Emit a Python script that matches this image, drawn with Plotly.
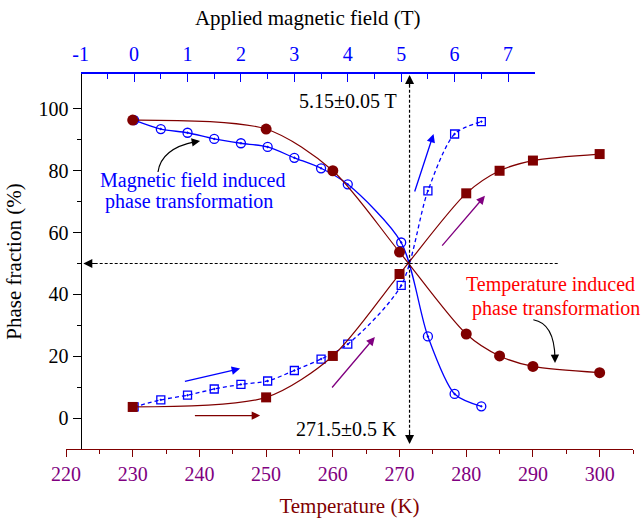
import plotly.graph_objects as go

# Temperature-driven transformation: phase fraction (%) vs temperature (K)
temp_K = [230, 250, 260, 270, 280, 285, 290, 300]
temp_decreasing = [96.4, 93.5, 80.0, 53.7, 27.2, 20.1, 16.7, 14.7]
temp_increasing = [3.6, 6.7, 20.1, 46.6, 72.7, 80.0, 83.3, 85.4]

# Field-driven transformation: phase fraction (%) vs applied field (T)
field_T = [0, 0.5, 1, 1.5, 2, 2.5, 3, 3.5, 4, 5, 5.5, 6, 6.5]
field_decreasing = [96.4, 93.5, 92.3, 90.3, 88.9, 87.7, 84.2, 80.8, 75.6, 56.8, 26.4, 7.8, 3.8]
field_increasing = [3.6, 5.9, 7.4, 9.4, 10.9, 12.0, 15.4, 19.1, 23.9, 42.9, 73.5, 91.9, 95.9]

# Tick labels
temp_ticks = [220, 230, 240, 250, 260, 270, 280, 290, 300]
field_ticks = [-1, 0, 1, 2, 3, 4, 5, 6, 7]
field_tick_text = ["-1", "0", "1", "2", "3", "4", "5", "6", "7"]
fraction_ticks = [0, 20, 40, 60, 80, 100]

# Transition point
T_CROSS = 271.5
B_CROSS = 5.15
P_CROSS = 50

MAROON = "#800000"
PURPLE = "#800080"
BLUE = "#0000FF"
RED = "#FF0000"
FONT = "Liberation Serif"

fig = go.Figure()

# field-induced curves (top axis, "x")
fig.add_trace(go.Scatter(
    x=field_T, y=field_decreasing, xaxis="x", yaxis="y", mode="lines+markers",
    line=dict(color=BLUE, width=1.3, shape="spline", smoothing=0.8),
    marker=dict(symbol="circle-open-dot", size=9, color=BLUE, line=dict(width=1.3)),
    showlegend=False, cliponaxis=False))
fig.add_trace(go.Scatter(
    x=field_T, y=field_increasing, xaxis="x", yaxis="y", mode="lines+markers",
    line=dict(color=BLUE, width=1.3, shape="spline", smoothing=0.8, dash="4px,3px"),
    marker=dict(symbol="square-open-dot", size=8, color=BLUE, line=dict(width=1.3)),
    showlegend=False, cliponaxis=False))

# temperature-induced curves (bottom axis, "x2"), drawn above the field curves
fig.add_trace(go.Scatter(
    x=temp_K, y=temp_decreasing, xaxis="x2", yaxis="y", mode="lines+markers",
    line=dict(color=MAROON, width=1.2, shape="spline", smoothing=0.8),
    marker=dict(symbol="circle", size=11, color=MAROON),
    showlegend=False, cliponaxis=False))
fig.add_trace(go.Scatter(
    x=temp_K, y=temp_increasing, xaxis="x2", yaxis="y", mode="lines+markers",
    line=dict(color=MAROON, width=1.2, shape="spline", smoothing=0.8),
    marker=dict(symbol="square", size=10, color=MAROON),
    showlegend=False, cliponaxis=False))

shapes = [
    # dashed guide lines through the transition point
    dict(type="line", xref="x2", yref="y", x0=T_CROSS, x1=T_CROSS, y0=-8.0, y1=110.5,
         line=dict(color="black", width=1.2, dash="3px,2px")),
    dict(type="line", xref="x2", yref="y", x0=222.8, x1=293.8, y0=P_CROSS, y1=P_CROSS,
         line=dict(color="black", width=1.2, dash="3px,2px")),
    # curved pointers
    dict(type="path", xref="x2", yref="y",
         path="M 233.79,79.6 Q 234.3,87.2 239.4,89.4",
         line=dict(color="black", width=1.2)),
    dict(type="path", xref="x2", yref="y",
         path="M 290.06,31.8 Q 293.2,30.6 293.3,19.5",
         line=dict(color="black", width=1.2)),
]


def arrow(x, y, ax, ay, color, width=1.3, size=1.3, head=2):
    return dict(x=x, y=y, ax=ax, ay=ay, xref="x2", yref="y", axref="x2", ayref="y",
                text="", showarrow=True, arrowhead=head, arrowsize=size,
                arrowwidth=width, arrowcolor=color)


annotations = [
    # direction arrows
    arrow(246.1, 16.0, 237.6, 11.8, BLUE),
    arrow(249.1, 0.8, 239.1, 0.8, MAROON),
    arrow(266.3, 26.2, 259.7, 9.4, PURPLE),
    arrow(275.1, 91.9, 272.2, 72.8, BLUE),
    arrow(282.8, 71.9, 276.2, 55.3, PURPLE),
    # heads of the dashed guides
    arrow(T_CROSS, 111.0, T_CROSS, 107.0, "black", 1.2, 1.5),
    arrow(T_CROSS, -8.4, T_CROSS, -4.0, "black", 1.2, 1.5),
    arrow(222.6, P_CROSS, 224.6, P_CROSS, "black", 1.2, 1.5),
    # heads of the curved pointers
    arrow(240.1, 89.65, 239.0, 89.2, "black", 1.2, 1.4),
    arrow(293.31, 17.8, 293.3, 20.0, "black", 1.2, 1.4),
]

labels = [
    ("5.15±0.05 T", 262.3, 102.6, "black"),
    ("271.5±0.5 K", 262.05, -3.4, "black"),
    ("Magnetic field induced", 239.1, 77.0, BLUE),
    ("phase transformation", 238.5, 69.9, BLUE),
    ("Temperature induced", 292.6, 43.2, RED),
    ("phase transformation", 293.4, 35.3, RED),
]
for txt, x, y, col in labels:
    annotations.append(dict(x=x, y=y, xref="x2", yref="y", text=txt, showarrow=False,
                            font=dict(family=FONT, size=20, color=col)))

fig.update_layout(
    width=641, height=518,
    margin=dict(l=66, r=8, t=74, b=69),
    paper_bgcolor="white", plot_bgcolor="rgba(0,0,0,0)",
    font=dict(family=FONT, size=20, color="black"),
    shapes=shapes, annotations=annotations,
    xaxis2=dict(
        domain=[0, 1], range=[220, 305], anchor="y", side="bottom", automargin=False,
        showline=True, linecolor=MAROON, linewidth=1.3,
        ticks="outside", ticklen=7, tickwidth=1.3, tickcolor=MAROON,
        tickmode="array", tickvals=temp_ticks,
        tickfont=dict(family=FONT, size=20, color=PURPLE),
        minor=dict(dtick=5, tick0=220, ticks="outside", ticklen=4, tickwidth=1.3, tickcolor=MAROON),
        showgrid=False, zeroline=False,
        title=dict(text="Temperature (K)", font=dict(family=FONT, size=21, color=MAROON), standoff=14),
    ),
    xaxis=dict(
        domain=[0.0259, 0.8267], range=[-1, 7.5], anchor="y", side="top", automargin=False,
        showline=True, linecolor=BLUE, linewidth=1.5,
        ticks="inside", ticklen=8, tickwidth=1.3, tickcolor=BLUE,
        tickmode="array", tickvals=field_ticks, ticktext=field_tick_text,
        ticklabelstandoff=3,
        tickfont=dict(family=FONT, size=20, color=BLUE),
        minor=dict(dtick=0.5, tick0=-1, ticks="inside", ticklen=5, tickwidth=1.3, tickcolor=BLUE),
        showgrid=False, zeroline=False,
        title=dict(text="Applied magnetic field (T)", font=dict(family=FONT, size=21, color="black"), standoff=12),
    ),
    yaxis=dict(
        domain=[0, 1], range=[-10, 111.3], anchor="free", position=0.0259, automargin=False,
        showline=True, linecolor="black", linewidth=1.3,
        ticks="outside", ticklen=8, tickwidth=1.3, tickcolor="black",
        tickmode="array", tickvals=fraction_ticks,
        tickfont=dict(family=FONT, size=20, color="black"),
        minor=dict(tickvals=[10, 30, 50, 70, 90], ticks="outside", ticklen=4, tickwidth=1.3, tickcolor="black"),
        showgrid=False, zeroline=False,
        title=dict(text="Phase fraction (%)", font=dict(family=FONT, size=21, color="black"), standoff=10),
    ),
)

fig.write_html("out.html", config={"displayModeBar": False})
